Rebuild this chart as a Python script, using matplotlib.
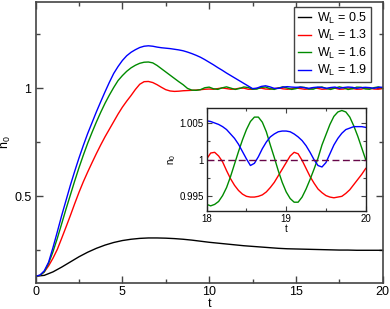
import matplotlib
matplotlib.use("Agg")
import matplotlib.pyplot as plt
from matplotlib.ticker import MultipleLocator, FixedLocator, FixedFormatter

plt.rcParams['font.family'] = ['Liberation Sans', 'DejaVu Sans']
plt.rcParams['mathtext.fontset'] = 'custom'
plt.rcParams['mathtext.rm'] = 'Liberation Sans'

# ---------------- data ----------------
t_black = [0.0, 0.5, 1.0, 1.5, 2.0, 2.5, 3.0, 3.5, 4.0, 4.5, 5.0, 5.5, 6.0, 6.5, 7.0,
           7.5, 8.0, 8.5, 9.0, 9.5, 10.0, 10.5, 11.0, 11.5, 12.0, 12.5, 13.0, 13.5,
           14.0, 14.5, 15.0, 15.5, 16.0, 16.5, 17.0, 17.5, 18.0, 18.5, 19.0, 19.5, 20.0]
n_black = [0.130, 0.134, 0.150, 0.172, 0.196, 0.220, 0.241, 0.259, 0.274, 0.286, 0.295,
           0.301, 0.305, 0.307, 0.307, 0.306, 0.304, 0.301, 0.297, 0.292, 0.287, 0.283,
           0.279, 0.275, 0.271, 0.268, 0.265, 0.262, 0.259, 0.257, 0.256, 0.255, 0.254,
           0.253, 0.252, 0.251, 0.251, 0.250, 0.250, 0.250, 0.250]

t_main = [i * 0.25 for i in range(81)]
n_red = [0.130, 0.134, 0.150, 0.178, 0.213, 0.254, 0.305, 0.357, 0.410, 0.465,
         0.518, 0.567, 0.612, 0.655, 0.697, 0.737, 0.775, 0.810, 0.845, 0.880,
         0.912, 0.940, 0.966, 0.994, 1.018, 1.030, 1.031, 1.026, 1.016, 1.004,
         0.993, 0.987, 0.985, 0.986, 0.988, 0.989, 0.990, 0.991, 0.993, 0.995,
         0.996, 0.995, 0.998, 1.001, 0.998, 0.995, 0.996, 1.000, 1.000, 0.995,
         0.995, 0.999, 1.000, 0.996, 0.995, 0.998, 1.001, 0.997, 0.995, 0.997,
         1.001, 0.998, 0.995, 0.996, 1.001, 0.999, 0.995, 0.996, 1.000, 1.000,
         0.995, 0.996, 1.0008, 0.9985, 0.995, 0.9955, 0.9995, 1.000, 0.996, 0.9952,
         0.9988]
n_green = [0.130, 0.134, 0.150, 0.190, 0.243, 0.305, 0.372, 0.440, 0.505, 0.570,
           0.632, 0.690, 0.745, 0.795, 0.843, 0.888, 0.930, 0.968, 1.003, 1.035,
           1.058, 1.078, 1.094, 1.106, 1.115, 1.120, 1.121, 1.117, 1.105, 1.090,
           1.075, 1.060, 1.045, 1.030, 1.016, 0.999, 0.991, 0.990, 0.993, 1.002,
           1.0048, 0.9971, 0.9944, 1.0015, 1.0060, 1.0001, 0.9941, 0.9984, 1.0055, 1.0030,
           0.9953, 0.9958, 1.0036, 1.0052, 0.9977, 0.9942, 1.0008, 1.0060, 1.0008, 0.9942,
           0.9977, 1.0052, 1.0036, 0.9958, 0.9953, 1.0030, 1.0055, 0.9984, 0.9941, 1.0001,
           1.0060, 1.0015, 0.9939, 0.9971, 1.0048, 1.0041, 0.9962, 0.9949, 1.0025, 1.0058,
           1.0000]
n_blue = [0.130, 0.135, 0.155, 0.195, 0.262, 0.335, 0.410, 0.480, 0.550, 0.615,
          0.677, 0.735, 0.790, 0.840, 0.890, 0.937, 0.983, 1.027, 1.068, 1.100,
          1.128, 1.150, 1.166, 1.178, 1.188, 1.194, 1.196, 1.194, 1.190, 1.187,
          1.185, 1.183, 1.180, 1.177, 1.173, 1.167, 1.160, 1.152, 1.143, 1.132,
          1.120, 1.108, 1.095, 1.083, 1.070, 1.058, 1.046, 1.034, 1.022, 1.010,
          0.998, 1.000, 1.008, 1.011, 1.006, 0.999, 0.999, 1.005, 1.007, 1.005,
          1.004, 1.005, 1.002, 0.9995, 1.003, 1.005, 1.003, 0.9995, 1.003, 1.005,
          0.9995, 1.003, 1.0053, 1.0038, 0.9994, 1.0025, 1.0039, 1.0025, 0.9994, 1.0038,
          1.0044]

t_inset = [18 + i * 0.05 for i in range(41)]
inset_red = [1.0001, 1.0009, 1.0010, 1.0005, 0.9997, 0.9985, 0.9974, 0.9965, 0.9958, 0.9953,
             0.9950, 0.9949, 0.9949, 0.9950, 0.9952, 0.9956, 0.9962, 0.9969, 0.9978, 0.9987,
             0.9996, 1.0005, 1.0010, 1.0008, 0.9999, 0.9988, 0.9977, 0.9968, 0.9960, 0.9955,
             0.9951, 0.9949, 0.9948, 0.9949, 0.9950, 0.9954, 0.9959, 0.9966, 0.9973, 0.9980,
             0.9988]
inset_green = [0.9939, 0.9937, 0.9939, 0.9943, 0.9951, 0.9962, 0.9977, 0.9994, 1.0011, 1.0027,
               1.0041, 1.0052, 1.0058, 1.0058, 1.0051, 1.0038, 1.0020, 1.0003, 0.9985, 0.9969,
               0.9956, 0.9947, 0.9942, 0.9942, 0.9949, 0.9960, 0.9973, 0.9987, 1.0002, 1.0020,
               1.0034, 1.0048, 1.0059, 1.0065, 1.0067, 1.0065, 1.0058, 1.0046, 1.0032, 1.0016,
               1.0000]
inset_blue = [1.0053, 1.0052, 1.0050, 1.0048, 1.0045, 1.0041, 1.0035, 1.0029, 1.0021, 1.0011,
              1.0001, 0.9992, 0.9995, 1.0004, 1.0015, 1.0024, 1.0031, 1.0035, 1.0038, 1.0039,
              1.0039, 1.0038, 1.0035, 1.0031, 1.0026, 1.0019, 1.0010, 1.0000, 0.9992, 0.9990,
              0.9996, 1.0008, 1.0020, 1.0029, 1.0036, 1.0041, 1.0043, 1.0045, 1.0045, 1.0045,
              1.0044]

labels = ['0.5', '1.3', '1.6', '1.9']
colors = ['#000000', '#ff0000', '#008b00', '#0000ff']
ref_level = 1.0

# ---------------- figure ----------------
W, H = 390, 309
fig = plt.figure(figsize=(W / 100, H / 100), dpi=100)
spine_c = '#444444'

ax = fig.add_axes([35.6 / W, 1 - 282.7 / H, (382.7 - 35.6) / W, (282.7 - 1.7) / H])
series = [(t_black, n_black), (t_main, n_red), (t_main, n_green), (t_main, n_blue)]
for (tt, nn), c, lab in zip(series, colors, labels):
    ax.plot(tt, nn, color=c, lw=1.0, label=r'$\mathregular{W_L}$ = ' + lab)

ax.set_xlim(0, 20)
ax.set_ylim(0.1, 1.4)
ax.xaxis.set_major_locator(MultipleLocator(5))
ax.xaxis.set_minor_locator(MultipleLocator(2.5))
ax.yaxis.set_major_locator(FixedLocator([0.5, 1.0]))
ax.yaxis.set_major_formatter(FixedFormatter(['0.5', '1']))
ax.yaxis.set_minor_locator(MultipleLocator(0.25))
ax.tick_params(which='both', direction='in', top=True, right=True, color=spine_c,
               labelsize=9, width=1.0)
ax.tick_params(axis='x', pad=2.5)
ax.tick_params(axis='y', pad=3)
ax.tick_params(which='major', length=5)
ax.tick_params(which='minor', length=2.8)
for s in ax.spines.values():
    s.set_color(spine_c)
    s.set_linewidth(1.2)
ax.set_xlabel('t', fontsize=9, labelpad=0)
ax.xaxis.set_label_coords(0.5, -0.054)
ax.set_ylabel(r'$\mathregular{n_0}$', fontsize=9)
ax.yaxis.set_label_coords(-0.066, 0.5)

leg = ax.legend(loc='upper right', bbox_to_anchor=(0.966, 0.982), borderaxespad=0,
                fontsize=9, frameon=True, fancybox=False, framealpha=1,
                handlelength=1.05, handletextpad=0.5, labelspacing=0.2,
                borderpad=0.3)
leg.get_frame().set_edgecolor(spine_c)
leg.get_frame().set_linewidth(1.0)

# ---------------- inset ----------------
ax2 = fig.add_axes([206.7 / W, 1 - 211 / H, (365.7 - 206.7) / W, (211 - 108.3) / H])
for nn, c in zip([inset_red, inset_green, inset_blue], colors[1:]):
    ax2.plot(t_inset, nn, color=c, lw=1.0)
ax2.axhline(ref_level, color='#670748', lw=1.0, dashes=(5, 2.5))
ax2.set_xlim(18, 20)
ax2.set_ylim(0.993, 1.007)
ax2.xaxis.set_major_locator(MultipleLocator(1))
ax2.xaxis.set_minor_locator(MultipleLocator(0.5))
ax2.yaxis.set_major_locator(FixedLocator([0.995, 1.0, 1.005]))
ax2.yaxis.set_major_formatter(FixedFormatter(['0.995', '1', '1.005']))
ax2.yaxis.set_minor_locator(MultipleLocator(0.0025))
ax2.tick_params(which='both', direction='in', top=True, right=True, color=spine_c,
                labelsize=7, width=0.8, pad=2)
ax2.tick_params(which='major', length=3.5)
ax2.tick_params(which='minor', length=2)
for s in ax2.spines.values():
    s.set_color('#222222')
    s.set_linewidth(1.0)
ax2.set_xlabel('t', fontsize=7, labelpad=0)
ax2.set_ylabel(r'$\mathregular{n_0}$', fontsize=7, labelpad=1)

fig.savefig('out.png', dpi=100)
